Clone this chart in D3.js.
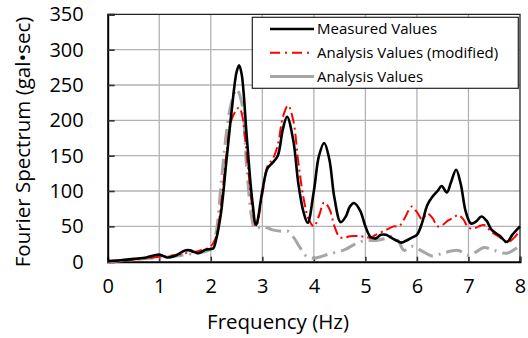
<!DOCTYPE html>
<html>
<head>
<meta charset="UTF-8">
<title>Fourier spectrum</title>
<script src="https://cdn.jsdelivr.net/npm/d3@7"></script>
<style>
  body { margin: 0; background: #fff; }
  text { font-family: "Open Sans", sans-serif; fill: #000; }
</style>
</head>
<body>
<script>
// frequency (Hz) samples for each series
var measuredF = [0, 0.25, 0.5, 0.75, 1.0, 1.15, 1.3, 1.5, 1.6, 1.75, 1.9, 2.0, 2.05, 2.1, 2.2, 2.3, 2.4, 2.5, 2.55, 2.6, 2.7, 2.8, 2.88,
  3.0, 3.1, 3.2, 3.3, 3.4, 3.48, 3.6, 3.7, 3.8, 3.88, 4.0, 4.1, 4.2, 4.3, 4.4, 4.52, 4.62, 4.7, 4.78, 4.9, 5.0, 5.1, 5.2, 5.3, 5.4,
  5.5, 5.6, 5.7, 5.8, 5.9, 6.0, 6.1, 6.2, 6.3, 6.4, 6.48, 6.58, 6.66, 6.76, 6.85, 6.95, 7.05, 7.15, 7.25, 7.35, 7.45, 7.6, 7.75, 7.85, 8.0];
var measuredV = [1, 2, 4, 6, 10, 6, 8, 16, 16, 12, 17, 18, 19, 30, 70, 140, 210, 268, 278, 265, 175, 90, 52,
  100, 132, 140, 150, 188, 205, 172, 110, 70, 55, 100, 150, 168, 145, 90, 56, 64, 78, 83, 72, 50, 35, 33, 38, 38,
  34, 30, 27, 30, 34, 38, 55, 80, 92, 100, 107, 98, 112, 130, 110, 70, 54, 57, 64, 58, 45, 37, 28, 38, 50];

var modifiedF = [0, 0.5, 1.0, 1.2, 1.5, 1.75, 2.0, 2.1, 2.2, 2.3, 2.4, 2.5, 2.55, 2.6, 2.7, 2.8, 2.88, 3.0, 3.1, 3.2, 3.3, 3.4, 3.5,
  3.6, 3.7, 3.8, 3.9, 4.0, 4.1, 4.2, 4.3, 4.4, 4.5, 4.6, 4.7, 4.9, 5.0, 5.1, 5.2, 5.4, 5.55, 5.65, 5.75, 5.9, 6.0, 6.1, 6.2,
  6.3, 6.4, 6.5, 6.6, 6.7, 6.8, 6.9, 7.0, 7.1, 7.2, 7.3, 7.45, 7.6, 7.75, 7.9, 8.0];
var modifiedV = [0, 3, 7, 8, 12, 15, 22, 35, 80, 150, 200, 215, 218, 210, 150, 80, 50, 95, 135, 145, 165, 205, 221,
  200, 140, 90, 60, 50, 65, 84, 75, 50, 35, 34, 36, 36, 35, 34, 38, 45, 50, 50, 60, 78, 70, 60, 68,
  62, 50, 52, 58, 62, 66, 60, 48, 47, 50, 52, 42, 35, 27, 35, 45];

var analysisF = [0, 1.0, 1.5, 2.0, 2.1, 2.2, 2.3, 2.4, 2.5, 2.6, 2.7, 2.8, 2.86, 3.0, 3.2, 3.4, 3.5, 3.6, 3.75, 3.85, 4.0, 4.3, 4.6,
  4.8, 5.0, 5.2, 5.4, 5.55, 5.65, 5.75, 5.9, 6.1, 6.3, 6.5, 6.8, 7.0, 7.15, 7.3, 7.5, 7.75, 8.0];
var analysisV = [0, 6, 10, 18, 40, 110, 180, 225, 244, 225, 130, 60, 47, 50, 45, 43, 43, 35, 18, 8, 5, 11, 17,
  25, 30, 30, 33, 36, 28, 16, 22, 15, 8, 12, 16, 9, 14, 20, 16, 12, 23];

var xTicks = [0, 1, 2, 3, 4, 5, 6, 7, 8];
var yTicks = [0, 50, 100, 150, 200, 250, 300, 350];
var seriesNames = ["Measured Values", "Analysis Values (modified)", "Analysis Values"];

var width = 528, height = 338,
    pLeft = 107.7, pRight = 520, pTop = 14.3, pBottom = 261.7;

var x = d3.scaleLinear().domain([0, 8]).range([pLeft, pRight]),
    y = d3.scaleLinear().domain([0, 350]).range([pBottom, pTop]);

var svg = d3.select("body").append("svg")
    .attr("width", width)
    .attr("height", height);

// grid
svg.append("g").selectAll("line")
    .data(xTicks.slice(1, -1))
  .enter().append("line")
    .attr("x1", d => x(d)).attr("x2", d => x(d))
    .attr("y1", pTop).attr("y2", pBottom)
    .attr("stroke", "#b3b3b3").attr("stroke-width", 1.3);
svg.append("g").selectAll("line")
    .data(yTicks.slice(1, -1))
  .enter().append("line")
    .attr("x1", pLeft).attr("x2", pRight)
    .attr("y1", d => y(d)).attr("y2", d => y(d))
    .attr("stroke", "#b3b3b3").attr("stroke-width", 1.3);

// frame: top / right
svg.append("path")
    .attr("d", "M" + pLeft + "," + pTop + "H" + pRight + "V" + pBottom)
    .attr("fill", "none").attr("stroke", "#222").attr("stroke-width", 1.3);

// axes
var xAxis = d3.axisBottom(x).tickValues(xTicks).tickSize(-5).tickPadding(24);
var yAxis = d3.axisLeft(y).tickValues(yTicks).tickSize(-7).tickPadding(24);

var gx = svg.append("g").attr("transform", "translate(0," + pBottom + ")").call(xAxis);
var gy = svg.append("g").attr("transform", "translate(" + pLeft + ",0)").call(yAxis);

[gx, gy].forEach(function(g){
    g.select(".domain").attr("stroke", "#000").attr("stroke-width", 2);
    g.selectAll(".tick line").attr("stroke", "#333").attr("stroke-width", 1.6);
    g.selectAll(".tick text").attr("font-size", 20).attr("font-family", "Open Sans").attr("fill", "#000");
});
gx.selectAll(".tick text").attr("dy", "0.35em");

// axis titles
svg.append("text")
    .attr("x", 278).attr("y", 329)
    .attr("text-anchor", "middle")
    .attr("font-size", 20.5)
    .text("Frequency (Hz)");
svg.append("text")
    .attr("transform", "translate(30,142) rotate(-90)")
    .attr("text-anchor", "middle")
    .attr("font-size", 20.5)
    .text("Fourier Spectrum (gal\u2022sec)");

// lines
var line = d3.line()
    .x(d => x(d[0]))
    .y(d => y(d[1]))
    .curve(d3.curveCatmullRom.alpha(0.5));

var plot = svg.append("g");

plot.append("path")
    .datum(d3.zip(analysisF, analysisV))
    .attr("d", line)
    .attr("fill", "none")
    .attr("stroke", "#a6a6a6")
    .attr("stroke-width", 3)
    .attr("stroke-dasharray", "16,6,2,6");

plot.append("path")
    .datum(d3.zip(modifiedF, modifiedV))
    .attr("d", line)
    .attr("fill", "none")
    .attr("stroke", "#ff0000")
    .attr("stroke-width", 2)
    .attr("stroke-dasharray", "11,4,2,4");

plot.append("path")
    .datum(d3.zip(measuredF, measuredV))
    .attr("d", line)
    .attr("fill", "none")
    .attr("stroke", "#000")
    .attr("stroke-width", 2.6);

// legend
var legend = svg.append("g");
legend.append("rect")
    .attr("x", 252.3).attr("y", 17.3)
    .attr("width", 266).attr("height", 71)
    .attr("fill", "#fff").attr("stroke", "#222").attr("stroke-width", 1.2);

var legendStyles = [
    {color: "#000", w: 2.6, dash: null},
    {color: "#ff0000", w: 2, dash: "10,5,2,5"},
    {color: "#a6a6a6", w: 3, dash: null}
];
var rows = legend.selectAll("g.row")
    .data(seriesNames)
  .enter().append("g")
    .attr("transform", (d, i) => "translate(0," + (29 + i * 23.8) + ")");
rows.append("line")
    .attr("x1", 270).attr("x2", 314)
    .attr("stroke", (d, i) => legendStyles[i].color)
    .attr("stroke-width", (d, i) => legendStyles[i].w)
    .attr("stroke-dasharray", (d, i) => legendStyles[i].dash);
rows.append("text")
    .attr("x", 317).attr("dy", "0.35em")
    .attr("font-size", 15)
    .text(d => d);
</script>
</body>
</html>
